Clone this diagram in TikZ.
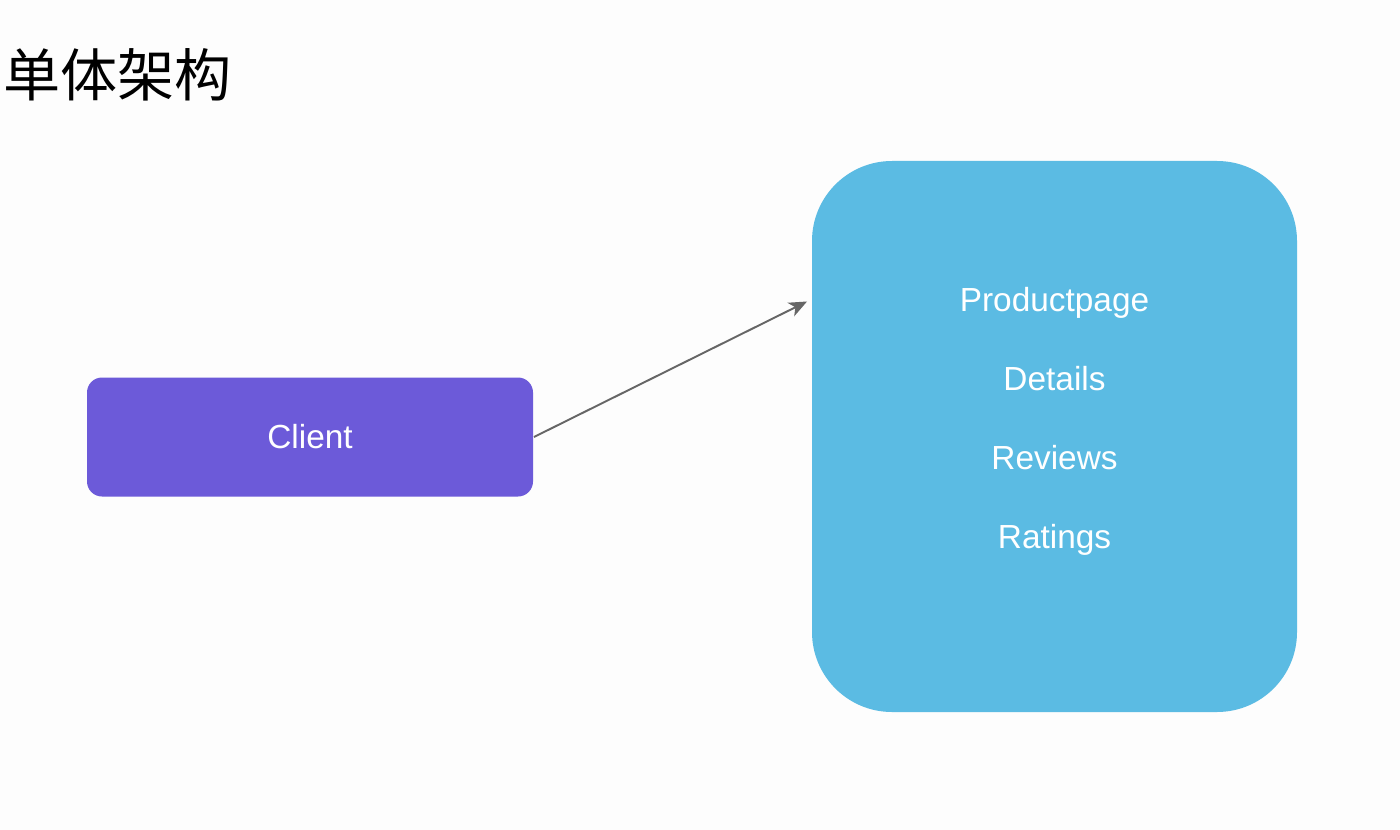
\documentclass[tikz,border=0pt]{standalone}
\usepackage{fontspec}
\setmainfont{Liberation Sans}
\newfontfamily\cjk{Noto Sans CJK SC}
\usetikzlibrary{arrows.meta,positioning}
\definecolor{clientcol}{HTML}{6C5AD9}
\definecolor{appcol}{HTML}{5BBBE3}
\definecolor{bgcol}{HTML}{FDFDFD}
\definecolor{linecol}{HTML}{666666}

\begin{document}
\begin{tikzpicture}[node distance=1.58cm,line width=1.1pt,
  box/.style={fill=clientcol,rounded corners=0.3cm,minimum width=8.92cm,minimum height=2.38cm,
    text=white,font=\fontsize{19}{22}\selectfont},
  app/.style={fill=appcol,rounded corners=1.6cm,minimum width=9.7cm,minimum height=11.02cm},
  svc/.style={text=white,font=\fontsize{19}{22}\selectfont,text height=1.5ex,text depth=0.3ex,inner sep=0pt}]
  \fill[bgcol] (0,0) rectangle (28,-16.6);
  \useasboundingbox (0,0) rectangle (28,-16.6);
  \node[anchor=west,font=\cjk\fontsize{32.5}{36}\selectfont,inner sep=0pt] (title) at (0.05,-1.5) {单体架构};

  \node[box]            (client)  at (6.2,-8.74)   {Client};
  \node[app]            (mono)    at (21.09,-8.73) {};
  \node[svc]            (prod)    at (21.09,-6.12) {Productpage};
  \node[svc]            (det)     [below of=prod]  {Details};
  \node[svc]            (rev)     [below of=det]   {Reviews};
  \node[svc]            (rat)     [below of=rev]   {Ratings};

  \coordinate (tip) at ([xshift=-0.08cm,yshift=2.7cm]mono.west);
  \draw[linecol,-{Stealth[length=0.36cm,width=0.3cm,inset=0.1cm]}] (client.east) -- (tip);
\end{tikzpicture}
\end{document}
